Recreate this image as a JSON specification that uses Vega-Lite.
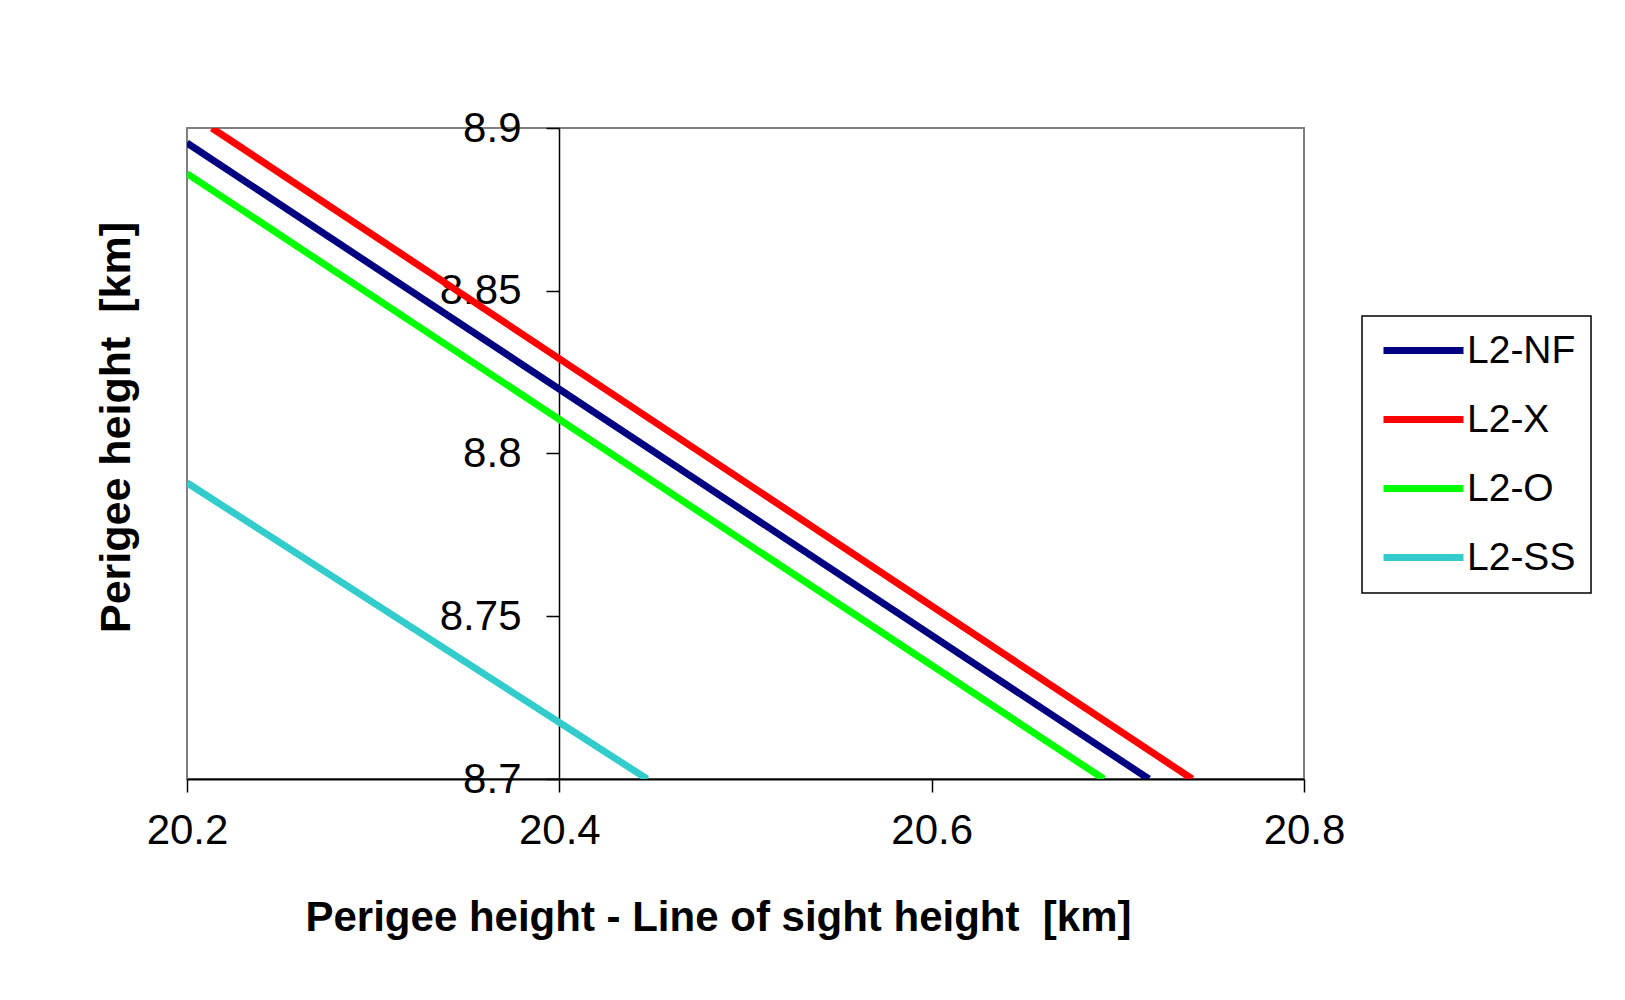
{
  "$schema": "https://vega.github.io/schema/vega-lite/v6.json",
  "width": 1117,
  "height": 651,
  "autosize": {"type": "none"},
  "padding": {"left": 187, "top": 128, "right": 321, "bottom": 221},
  "background": "white",
  "config": {
    "view": {"stroke": "#808080", "strokeWidth": 2},
    "font": "Liberation Sans",
    "legend": {"strokeWidth": 1.5}
  },
  "data": {
    "values": [
      {"series": "L2-NF", "dh": 20.2, "hp": 8.8954},
      {"series": "L2-NF", "dh": 20.7167, "hp": 8.7},
      {"series": "L2-X", "dh": 20.2134, "hp": 8.9},
      {"series": "L2-X", "dh": 20.740, "hp": 8.7},
      {"series": "L2-O", "dh": 20.2, "hp": 8.886},
      {"series": "L2-O", "dh": 20.6925, "hp": 8.7},
      {"series": "L2-SS", "dh": 20.2, "hp": 8.791},
      {"series": "L2-SS", "dh": 20.4472, "hp": 8.7}
    ]
  },
  "mark": {"type": "line", "strokeWidth": 7, "clip": true},
  "encoding": {
    "x": {
      "field": "dh",
      "type": "quantitative",
      "scale": {"domain": [20.2, 20.8], "nice": false, "zero": false},
      "axis": {
        "values": [20.2, 20.4, 20.6, 20.8],
        "format": ".1f",
        "grid": false,
        "labelFlush": false,
        "domainColor": "black",
        "domainWidth": 2,
        "tickColor": "black",
        "tickWidth": 1.5,
        "tickSize": 13,
        "labelFontSize": 42,
        "labelColor": "black",
        "labelPadding": 18,
        "title": "Perigee height - Line of sight height \u00a0[km]",
        "titleFontSize": 42,
        "titleFontWeight": "bold",
        "titleColor": "black",
        "titleX": 531,
        "titleY": 151,
        "titleBaseline": "alphabetic",
        "titleAlign": "center"
      }
    },
    "y": {
      "field": "hp",
      "type": "quantitative",
      "scale": {"domain": [8.7, 8.9], "nice": false, "zero": false},
      "axis": {
        "orient": "left",
        "offset": -372,
        "values": [8.7, 8.75, 8.8, 8.85, 8.9],
        "format": ".2~f",
        "grid": false,
        "domainColor": "black",
        "domainWidth": 1.5,
        "tickColor": "black",
        "tickWidth": 1.5,
        "tickSize": 13,
        "labelFontSize": 42,
        "labelColor": "black",
        "labelPadding": 25,
        "title": "Perigee height \u00a0[km]",
        "titleFontSize": 43,
        "titleFontWeight": "bold",
        "titleColor": "black",
        "titleX": -443,
        "titleY": 299,
        "titleAngle": -90,
        "titleBaseline": "middle",
        "titleAlign": "center"
      }
    },
    "color": {
      "field": "series",
      "type": "nominal",
      "sort": ["L2-NF", "L2-X", "L2-O", "L2-SS"],
      "scale": {
        "domain": ["L2-NF", "L2-X", "L2-O", "L2-SS"],
        "range": ["#000080", "#FF0000", "#00FF00", "#33CCCC"]
      },
      "legend": {
        "orient": "none",
        "legendX": 1175,
        "legendY": 188,
        "title": null,
        "strokeColor": "black",
        "fillColor": "white",
        "padding": 15,
        "symbolType": "M-1.3,0H6.7",
        "symbolSize": 400,
        "symbolStrokeWidth": 7,
        "labelFontSize": 39,
        "labelFont": "Liberation Sans",
        "labelColor": "black",
        "labelOffset": 51,
        "rowPadding": 29
      }
    }
  }
}
